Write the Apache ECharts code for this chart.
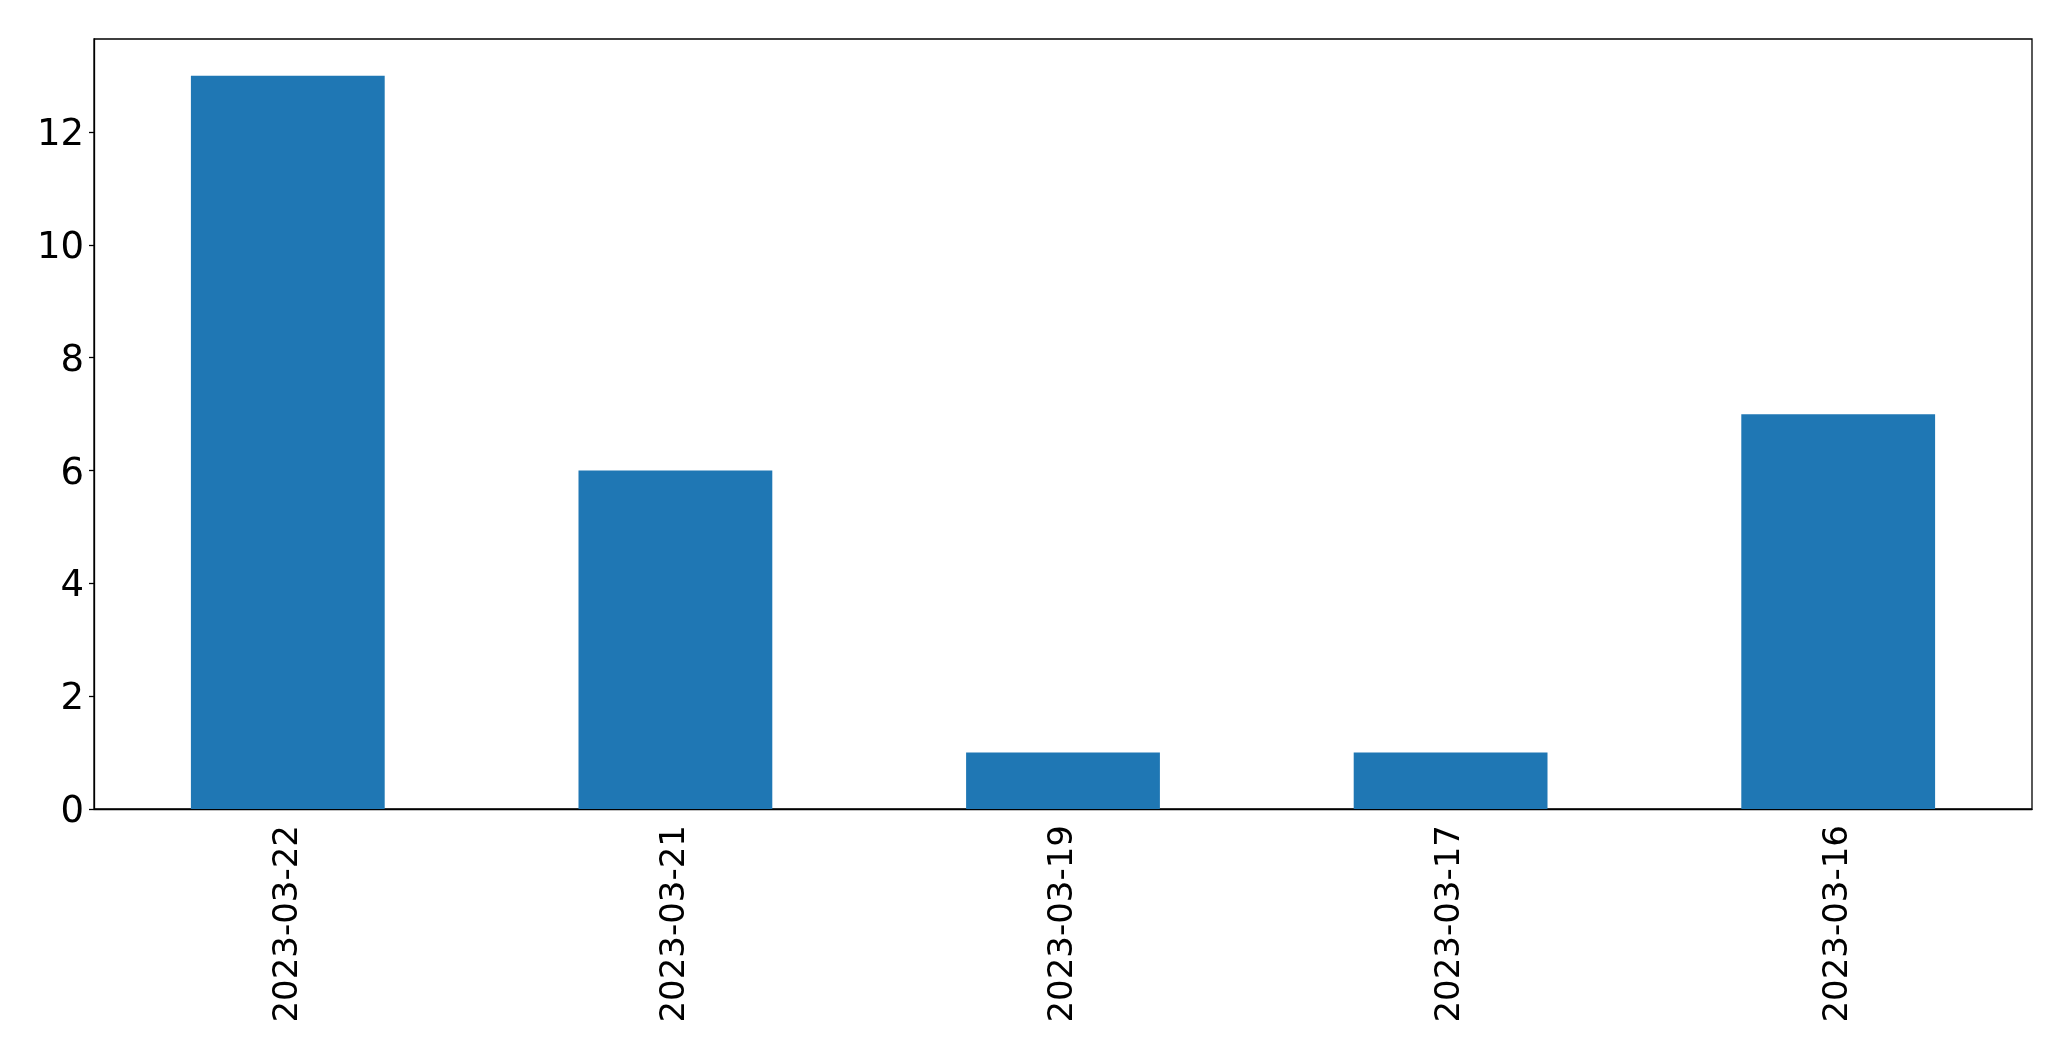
<!DOCTYPE html>
<html>
<head>
    <title>Counts by date</title>
    <script src="https://cdn.jsdelivr.net/npm/echarts@6/dist/echarts.min.js"></script>
    <style>
        html, body { margin: 0; padding: 0; background: #fff; }
        #chart { width: 2071px; height: 1061px; }
    </style>
</head>
<body>
<div id="chart"></div>

<script>
    var dates = ['2023-03-22', '2023-03-21', '2023-03-19', '2023-03-17', '2023-03-16'];
    var counts = [13, 6, 1, 1, 7];
    var yTicks = [0, 2, 4, 6, 8, 10, 12];

    var chart = echarts.init(document.getElementById('chart'));
    var font = 'DejaVu Sans';

    var option = {
        animation: false,
        backgroundColor: '#ffffff',
        grid: {
            left: 94,
            right: 39,
            top: 39,
            bottom: 252,
            show: true,
            borderColor: '#000',
            borderWidth: 1.3,
            containLabel: false
        },
        xAxis: {
            type: 'category',
            data: dates,
            axisLine: { lineStyle: { color: '#000', width: 1.3 } },
            axisTick: { alignWithLabel: true, length: 6, lineStyle: { color: '#000', width: 1.3 } },
            axisLabel: {
                rotate: 90,
                margin: 16,
                color: '#000',
                fontFamily: font,
                fontSize: 34
            },
            splitLine: { show: false }
        },
        yAxis: {
            type: 'value',
            min: 0,
            max: 13.65,
            interval: 2,
            axisLine: { show: true, lineStyle: { color: '#000', width: 1.3 } },
            axisTick: { show: true, length: 5, customValues: yTicks, lineStyle: { color: '#000', width: 1.3 } },
            axisLabel: {
                margin: 10,
                customValues: yTicks,
                formatter: function (v) { return '{n|' + v + '}'; },
                rich: {
                    n: {
                        padding: [7, 0, 0, 0],
                        color: '#000',
                        fontFamily: font,
                        fontSize: 37
                    }
                },
                color: '#000',
                fontFamily: font,
                fontSize: 37
            },
            splitLine: { show: false }
        },
        series: [{
            name: 'count',
            type: 'bar',
            data: counts,
            barWidth: '50%',
            itemStyle: { color: '#1f77b4' }
        }]
    };

    chart.setOption(option);
</script>
</body>
</html>
